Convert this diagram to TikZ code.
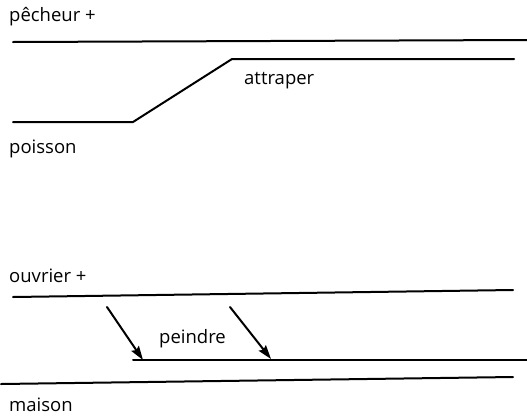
\documentclass[tikz,border=0pt]{standalone}
\usepackage{fontspec}
\setmainfont{Open Sans}
\usetikzlibrary{arrows.meta}
\begin{document}
\begin{tikzpicture}[x=1pt,y=-1pt,
  lbl/.style={anchor=west,inner sep=0pt,font=\fontsize{18.5}{21}\selectfont},
  ln/.style={line width=2pt,line cap=round,line join=miter},
  arr/.style={ln,-{Stealth[length=14pt,width=9pt,inset=2pt]}}]
\useasboundingbox (0,0) rectangle (527,418);
\node[lbl] (pecheur) at (9,17) {pêcheur +};
\coordinate (t1) at (13,42); \coordinate (t2) at (527,40);
\draw[ln] (t1) -- (t2);
\coordinate (p1) at (13,122); \coordinate (p2) at (133,122);
\coordinate (p3) at (232,59); \coordinate (p4) at (514,59);
\draw[ln] (p1) -- (p2) -- (p3) -- (p4);
\node[lbl] (attraper) at (244,81) {attraper};
\node[lbl] (poisson) at (9,149) {poisson};
\node[lbl] (ouvrier) at (9,276) {ouvrier +};
\coordinate (o1) at (13,297); \coordinate (o2) at (513,290);
\draw[ln] (o1) -- (o2);
\coordinate (q1) at (133,360); \coordinate (q2) at (527,360);
\draw[ln] (q1) -- (q2);
\coordinate (m1) at (1,384); \coordinate (m2) at (513,377);
\draw[ln] (m1) -- (m2);
\node[lbl] (peindre) at (159,339) {peindre};
\node[lbl] (maison) at (9,405) {maison};
\coordinate (a1s) at (107,307); \coordinate (a1e) at (143,360);
\coordinate (a2s) at (230,307); \coordinate (a2e) at (271,359);
\draw[arr] (a1s) -- (a1e);
\draw[arr] (a2s) -- (a2e);
\end{tikzpicture}
\end{document}
